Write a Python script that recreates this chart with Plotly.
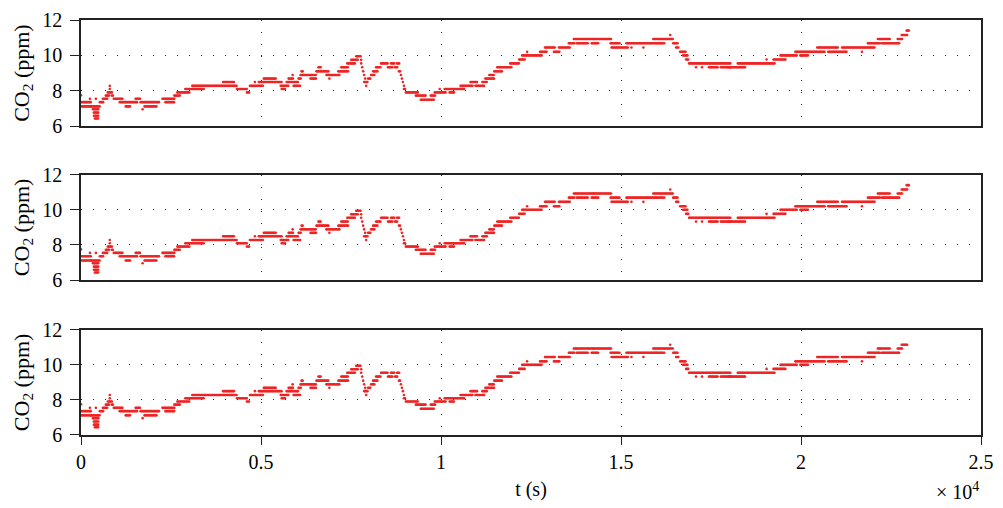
import numpy as np
import plotly.graph_objects as go

# ---- data: runs of constant CO2 reading (start s, end s, level ppm) ----
run_start = [0, 0, 0, 248, 276, 331, 359, 359, 386, 414,
             524, 607, 690, 745, 800, 800, 828, 856, 911, 1076,
             1242, 1518, 1656, 1711, 1766, 2263, 2346, 2594, 2677, 2898,
             3091, 3947, 4333, 4609, 4692, 4830, 4940, 5078, 5548, 5575,
             5713, 5768, 5879, 5906, 5934, 6044, 6127, 6100, 6376, 6541,
             6596, 6817, 6900, 7148, 7231, 7397, 7507, 7645, 7783, 7783,
             7811, 7838, 7866, 7894, 7866, 7921, 7976, 8059, 8114, 8197,
             8335, 8528, 8611, 8722, 8777, 8832, 8887, 8915, 8942, 8970,
             8970, 9025, 9301, 9439, 9715, 9826, 9964, 10102, 10240, 10543,
             10819, 10957, 11150, 11233, 11344, 11482, 11564, 11923, 12172, 12254,
             12392, 12751, 12889, 13138, 13276, 13552, 13690, 13772, 13993, 14076,
             14186, 14242, 14711, 14738, 14959, 15152, 15290, 15622, 15898, 15980,
             16201, 16367, 16450, 16532, 16643, 16726, 16808, 16891, 17084, 17250,
             17443, 17581, 17774, 17857, 17995, 18244, 19044, 19237, 19430, 19844,
             19982, 20452, 20755, 21142, 21694, 21859, 22135, 22246, 22687, 22798,
             22936]
run_end = [0, 276, 276, 276, 524, 497, 497, 497, 497, 442,
           635, 745, 800, 828, 828, 828, 883, 911, 1159, 1573,
           1380, 1656, 2180, 1739, 2125, 2594, 2594, 2760, 3036, 3422,
           4333, 4250, 4609, 4692, 5078, 4858, 5575, 5437, 5768, 5686,
           5906, 5906, 5906, 6100, 6044, 6127, 6182, 6541, 6541, 6872,
           6679, 7204, 6928, 7424, 7424, 7618, 7700, 7783, 7811, 7811,
           7838, 7866, 7894, 7921, 7976, 7949, 8059, 8170, 8252, 8335,
           8528, 8666, 8722, 8804, 8860, 8887, 8915, 8942, 8970, 8998,
           9025, 9356, 9577, 9826, 9853, 10129, 9991, 10654, 10378, 10874,
           11012, 11206, 11288, 11482, 11482, 11702, 11978, 12172, 12337, 12806,
           12420, 12944, 13165, 13304, 13580, 13718, 13966, 14048, 14242, 14104,
           14380, 14738, 14932, 15208, 14987, 15980, 15318, 15650, 16450, 16174,
           16229, 16394, 16588, 16615, 16808, 16864, 16891, 17554, 17112, 17278,
           17692, 17830, 18050, 18050, 18464, 19292, 19072, 19568, 19900, 20672,
           20203, 21031, 21280, 22052, 21721, 22190, 22466, 22742, 22825, 22963,
           23018]
run_level = [7.75, 7.36, 7.12, 7.55, 7.12, 6.96, 6.77, 6.59, 6.44, 7.55,
             7.36, 7.55, 7.73, 7.91, 8.10, 8.28, 7.91, 7.73, 7.55, 7.36,
             7.12, 7.55, 7.36, 6.96, 7.12, 7.55, 7.36, 7.73, 7.91, 8.10,
             8.28, 8.50, 8.10, 7.91, 8.28, 8.50, 8.50, 8.69, 8.28, 8.10,
             8.50, 8.69, 8.89, 8.28, 8.50, 8.69, 9.10, 8.89, 8.69, 9.10,
             9.33, 8.89, 8.69, 9.10, 9.33, 9.55, 9.75, 9.95, 9.75, 9.55,
             9.33, 9.10, 8.89, 8.69, 8.50, 8.28, 8.69, 8.89, 9.10, 9.33,
             9.55, 9.33, 9.55, 9.33, 9.55, 9.10, 8.89, 8.69, 8.50, 8.28,
             8.10, 7.91, 7.73, 7.50, 7.73, 7.91, 8.10, 8.10, 7.91, 8.28,
             8.50, 8.28, 8.50, 8.69, 8.89, 9.10, 9.33, 9.55, 9.77, 10.00,
             10.20, 10.20, 10.45, 10.20, 10.45, 10.69, 10.93, 10.69, 10.93, 10.69,
             10.69, 10.93, 10.69, 10.45, 10.69, 10.69, 10.45, 10.45, 10.93, 10.69,
             10.69, 11.15, 10.69, 10.45, 10.20, 10.00, 9.77, 9.55, 9.33, 9.33,
             9.33, 9.55, 9.33, 9.55, 9.33, 9.55, 9.77, 9.77, 10.00, 10.20,
             10.00, 10.45, 10.20, 10.45, 10.20, 10.69, 10.93, 10.69, 10.93, 11.15,
             11.40]

# panels: number of runs used by each (bottom sensor never reaches the last 11.4 reading)
panel_run_count = [len(run_level), len(run_level), len(run_level) - 1]

x_tick_vals = [0, 5000, 10000, 15000, 20000, 25000]
x_tick_text = ["0", "0.5", "1", "1.5", "2", "2.5"]
y_tick_vals = [6, 8, 10, 12]

SAMPLE_DT = 30
RED = "#ee2424"
FONT = "Liberation Serif, Times New Roman, DejaVu Serif, serif"


def expand(n):
    xs, ys = [], []
    for a, b, v in zip(run_start[:n], run_end[:n], run_level[:n]):
        t = np.arange(a, b + 1, SAMPLE_DT) if b > a else np.array([a])
        xs.append(t)
        ys.append(np.full(len(t), v))
    return np.concatenate(xs), np.concatenate(ys)


domains = [[0.744, 1.0], [0.373, 0.6275], [0.0, 0.2535]]

fig = go.Figure()
for i, n in enumerate(panel_run_count):
    xs, ys = expand(n)
    sfx = "" if i == 0 else str(i + 1)
    fig.add_trace(go.Scatter(x=xs, y=ys, mode="markers",
                             marker=dict(color=RED, size=2.6, line=dict(width=0)),
                             xaxis="x" + sfx, yaxis="y" + sfx, showlegend=False,
                             hoverinfo="skip"))

layout = dict(
    width=1003, height=508,
    margin=dict(l=81, r=16, t=9, b=73),
    paper_bgcolor="white", plot_bgcolor="white",
    font=dict(family=FONT, size=20, color="black"),
    showlegend=False,
)
grid = dict(showgrid=True, gridcolor="#222222", gridwidth=1, griddash="1px,11px")
tickfont = dict(family=FONT, size=20, color="black")
for i, dom in enumerate(domains):
    sfx = "" if i == 0 else str(i + 1)
    last = i == 2
    xa = dict(
        domain=[0, 1], anchor="y" + sfx, range=[0, 25000],
        tickvals=x_tick_vals, ticktext=x_tick_text, showticklabels=last,
        ticks="outside" if last else "", ticklen=8, tickcolor="#222",
        tickfont=tickfont,
        showline=True, linecolor="#222", linewidth=1.5, mirror=True,
        zeroline=False, **grid,
    )
    if last:
        xa["title"] = dict(text="t (s)", standoff=10, font=dict(family=FONT, size=20))
    layout["xaxis" + sfx] = xa
    layout["yaxis" + sfx] = dict(
        domain=dom, anchor="x" + sfx, range=[6, 12], tickvals=y_tick_vals,
        ticks="outside", ticklen=9, tickcolor="#222", tickfont=tickfont,
        ticklabelstandoff=4,
        showline=True, linecolor="#222", linewidth=1.5, mirror=True,
        zeroline=False, **grid,
        title=dict(text="CO<sub>2</sub> (ppm)", font=dict(family=FONT, size=22),
                   standoff=7),
    )

fig.update_layout(**layout)
fig.add_annotation(text="× 10<sup>4</sup>", xref="paper", yref="paper",
                   x=1.0, y=-0.135, xanchor="right", yanchor="middle",
                   showarrow=False, font=dict(family=FONT, size=20))
fig.write_html("out.html")
